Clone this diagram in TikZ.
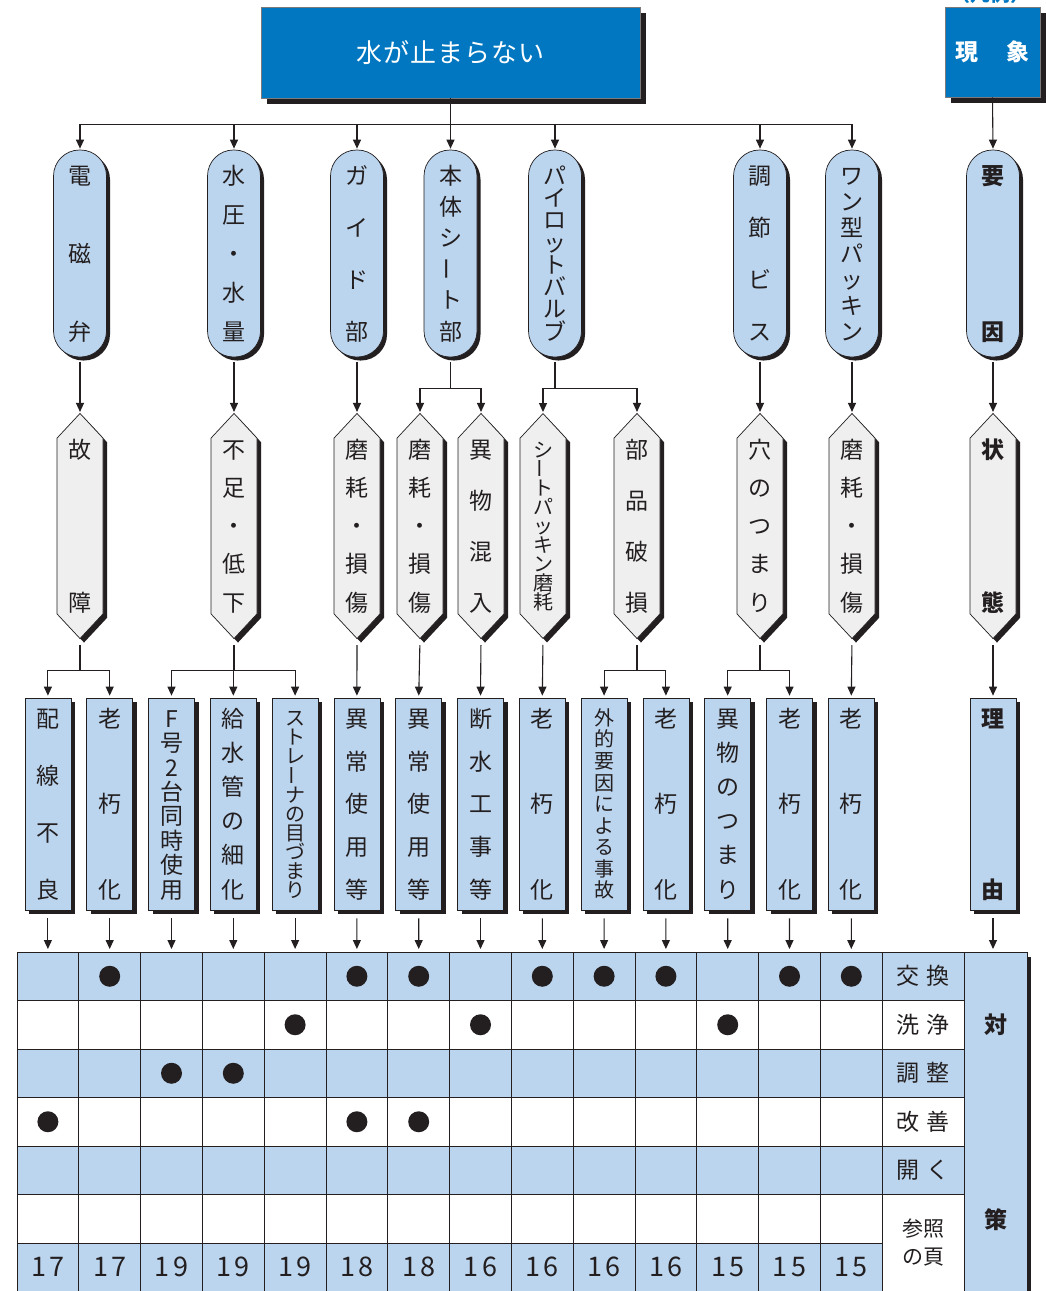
\documentclass[tikz,border=0pt]{standalone}
\usepackage{fontspec}
\setmainfont{Noto Sans CJK JP}
\usepackage{graphicx}
\usetikzlibrary{positioning, calc, shapes.symbols, shadows, arrows.meta}
\definecolor{WtrBlue}{HTML}{0077C0}
\definecolor{WtrPale}{HTML}{BCD5EE}
\definecolor{WtrGray}{HTML}{EFEFEF}
\definecolor{WtrInk}{HTML}{231F20}

%% vertical text: characters spread from top to bottom of a box
\newcommand\vtext[2]{\vbox to #1{\offinterlineskip\vtfirst#2\relax}}
\def\vtfirst#1{\vtbox{#1}\vtrest}
\def\vtrest#1{\ifx#1\relax\else\vss\vtbox{#1}\expandafter\vtrest\fi}
\def\vtbox#1{\hbox to 1em{\hss\vrule height .88em depth .12em width 0pt\relax #1\hss}}
\newcommand\vbar{\smash{\raisebox{.16em}{\rotatebox[origin=c]{90}{ー}}}}

\tikzset{
  ink/.style={draw=WtrInk, line width=0.7pt, text=WtrInk, inner sep=0pt},
  jpfont/.style={font=\fontsize{23}{23}\selectfont},
  keyfont/.style={font=\fontsize{23}{23}\selectfont\bfseries},
  smallfont/.style={font=\fontsize{20}{20}\selectfont},
  shade/.style={drop shadow={shadow xshift=#1, shadow yshift=-#1, fill=WtrInk, opacity=1}},
  headbox/.style={draw=WtrInk!60, line width=0.6pt, fill=WtrBlue, text=white, shade=6pt},
  cause/.style={ink, jpfont, fill=WtrPale, rounded corners=26pt, minimum width=53pt, minimum height=207pt, shade=3.5pt},
  state/.style={ink, jpfont, fill=WtrGray, shape=signal, signal to=north and south, signal pointer angle=86, minimum width=46pt, minimum height=197pt, shade=4pt},
  reason/.style={ink, jpfont, fill=WtrPale, minimum width=46pt, minimum height=212pt, shade=4pt},
  arr/.style={WtrInk, line width=1.1pt, -{Triangle[length=9pt, width=8pt]}},
  lin/.style={WtrInk, line width=1.1pt},
  grid/.style={WtrInk, line width=0.8pt},
  lab/.style={text=WtrInk, jpfont, inner sep=0pt},
  pg/.style={text=WtrInk, font=\fontsize{27}{27}\selectfont\addfontfeatures{LetterSpace=12}, inner sep=0pt}
}

\begin{document}
\begin{tikzpicture}[x=1pt, y=-1pt]
  \useasboundingbox (0,0) rectangle (1045,1291);
  %% heading boxes
  \node[headbox, minimum width=379pt, minimum height=91pt, font=\fontsize{26}{26}\selectfont\addfontfeatures{LetterSpace=4}] (top) at (450.5,52.5) {水が止まらない};
  \node[headbox, minimum width=95pt, minimum height=90pt, font=\fontsize{23}{23}\selectfont\bfseries] (lg) at (992.5,52) {現\hspace{1.2em}象};
  \node[text=WtrBlue, anchor=south, inner sep=0pt, font=\fontsize{20}{20}\selectfont\bfseries] (lgnote) at (990,4) {（凡例）};

  %% row 1: causes
  \node[cause] (c1) at (80,253.5) {\vtext{176pt}{電磁弁}};
  \node[cause] (c2) at (234,253.5) {\vtext{176pt}{水圧・水量}};
  \node[cause] (c3) at (357,253.5) {\vtext{176pt}{ガイド部}};
  \node[cause] (c4) at (450.5,253.5) {\vtext{176pt}{本体シ\vbar ト部}};
  \node[cause] (c5) at (555,253.5) {\vtext{176pt}{パイロットバルブ}};
  \node[cause] (c6) at (760,253.5) {\vtext{176pt}{調節ビス}};
  \node[cause] (c7) at (852,253.5) {\vtext{176pt}{ワン型パッキン}};
  \node[cause, keyfont] (cL) at (993,253.5) {\vtext{176pt}{要因}};

  %% row 2: states
  \node[state] (s1) at (80,526) {\vtext{173pt}{故障}};
  \node[state] (s2) at (234,526) {\vtext{173pt}{不足・低下}};
  \node[state] (s3) at (357,526) {\vtext{173pt}{磨耗・損傷}};
  \node[state] (s4) at (420,526) {\vtext{173pt}{磨耗・損傷}};
  \node[state] (s5) at (481,526) {\vtext{173pt}{異物混入}};
  \node[state, smallfont] (s6) at (543,526) {\vtext{170pt}{シ\vbar トパッキン磨耗}};
  \node[state] (s7) at (637,526) {\vtext{173pt}{部品破損}};
  \node[state] (s8) at (760,526) {\vtext{173pt}{穴のつまり}};
  \node[state] (s9) at (852,526) {\vtext{173pt}{磨耗・損傷}};
  \node[state, keyfont] (sL) at (993,526) {\vtext{173pt}{状態}};

  %% row 3: reasons
  \node[reason] (r1) at (47.9,804) {\vtext{191pt}{配線不良}};
  \node[reason] (r2) at (109.7,804) {\vtext{191pt}{老朽化}};
  \node[reason] (r3) at (171.5,804) {\vtext{191pt}{F号2台同時使用}};
  \node[reason] (r4) at (233.3,804) {\vtext{191pt}{給水管の細化}};
  \node[reason, smallfont] (r5) at (295.1,804) {\vtext{190pt}{ストレ\vbar ナの目づまり}};
  \node[reason] (r6) at (356.9,804) {\vtext{191pt}{異常使用等}};
  \node[reason] (r7) at (418.7,804) {\vtext{191pt}{異常使用等}};
  \node[reason] (r8) at (480.5,804) {\vtext{191pt}{断水工事等}};
  \node[reason] (r9) at (542.3,804) {\vtext{191pt}{老朽化}};
  \node[reason, smallfont] (r10) at (604.1,804) {\vtext{190pt}{外的要因による事故}};
  \node[reason] (r11) at (665.9,804) {\vtext{191pt}{老朽化}};
  \node[reason] (r12) at (727.7,804) {\vtext{191pt}{異物のつまり}};
  \node[reason] (r13) at (789.5,804) {\vtext{191pt}{老朽化}};
  \node[reason] (r14) at (851.3,804) {\vtext{191pt}{老朽化}};
  \node[reason, keyfont] (rL) at (993,804) {\vtext{191pt}{理由}};

  %% connectors
  \foreach \c in {c1,c2,c3,c4,c5,c6,c7}
    \draw[arr, shorten >=1pt] (top.south) -- ++(0,26) -| (\c.north);
  \draw[arr, shorten >=1pt] (lg.south) -- (cL.north);
  \foreach \a/\b in {c1/s1, c2/s2, c3/s3, c6/s8, c7/s9, cL/sL}
    \draw[arr, shorten <=5pt, shorten >=1pt] (\a.south) -- (\b.north);
  \draw[lin, shorten <=5pt] (c4.south) -- ++(0,31) coordinate (j4);
  \draw[arr, shorten >=1pt] (j4) -| (s4.north);
  \draw[arr, shorten >=1pt] (j4) -| (s5.north);
  \draw[lin, shorten <=5pt] (c5.south) -- ++(0,31) coordinate (j5);
  \draw[arr, shorten >=1pt] (j5) -| (s6.north);
  \draw[arr, shorten >=1pt] (j5) -| (s7.north);

  \foreach \a/\b in {s3/r6, s4/r7, s5/r8, s6/r9, s9/r14, sL/rL}
    \draw[arr, shorten <=6pt, shorten >=2pt] (\a.south) -- (\b.north);
  \draw[lin, shorten <=6pt] (s1.south) -- ++(0,31) coordinate (k1);
  \foreach \b in {r1,r2} \draw[arr, shorten >=2pt] (k1) -| (\b.north);
  \draw[lin, shorten <=6pt] (s2.south) -- ++(0,31) coordinate (k2);
  \foreach \b in {r3,r4,r5} \draw[arr, shorten >=2pt] (k2) -| (\b.north);
  \draw[lin, shorten <=6pt] (s7.south) -- ++(0,31) coordinate (k7);
  \foreach \b in {r10,r11} \draw[arr, shorten >=2pt] (k7) -| (\b.north);
  \draw[lin, shorten <=6pt] (s8.south) -- ++(0,31) coordinate (k8);
  \foreach \b in {r12,r13} \draw[arr, shorten >=2pt] (k8) -| (\b.north);

  %% table
  \fill[WtrPale] (17,952) rectangle (964,1000.5);
  \fill[WtrPale] (17,1049) rectangle (964,1097.5);
  \fill[WtrPale] (17,1146) rectangle (964,1194.5);
  \fill[WtrPale] (17,1243) rectangle (882.2,1300);
  \fill[WtrPale] (964,952) rectangle (1027,1300);
  \fill[WtrInk] (1027,957) rectangle (1031,1300);
  \foreach \k in {0,...,14}
    \draw[grid] ({17+61.8*\k},952) -- ++(0,348);
  \foreach \y in {1000.5,1049,1097.5,1146,1194.5}
    \draw[grid] (17,\y) -- (964,\y);
  \draw[grid] (17,1243) -- (882.2,1243);
  \draw[grid] (17,952) -- (1027,952) (964,952) -- (964,1300) (1027,952) -- (1027,1300);

  \foreach \i in {1,...,14} {
    \coordinate (t\i) at ({47.9+61.8*(\i-1)},952);
    \draw[arr, shorten <=8pt, shorten >=3pt] (r\i.south) -- (t\i);
  }
  \coordinate (tL) at (993,952);
  \draw[arr, shorten <=8pt, shorten >=3pt] (rL.south) -- (tL);

  %% marks
  \foreach \c/\r in {2/0,6/0,7/0,9/0,10/0,11/0,13/0,14/0,5/1,8/1,12/1,3/2,4/2,1/3,6/3,7/3}
    \fill[WtrInk] ({47.9+61.8*(\c-1)},{976.25+48.5*\r}) circle (10.5);

  %% row labels
  \node[lab] (m1) at (923,976.25) {交\hspace{.3em}換};
  \node[lab] (m2) at (923,1024.75) {洗\hspace{.3em}浄};
  \node[lab] (m3) at (923,1073.25) {調\hspace{.3em}整};
  \node[lab] (m4) at (923,1121.75) {改\hspace{.3em}善};
  \node[lab] (m5) at (923,1170.25) {開\hspace{.3em}く};
  \node[lab, font=\fontsize{21}{28}\selectfont, align=center] (m6) at (923,1243) {参照\\の頁};
  \node[lab, keyfont] (kt1) at (995.5,1025) {対};
  \node[lab, keyfont] (kt2) at (995.5,1220) {策};

  %% page numbers
  \foreach \p [count=\i] in {17,17,19,19,19,18,18,16,16,16,16,15,15,15}
    \node[pg] (p\i) at ({47.9+61.8*(\i-1)},1267.25) {\p};
\end{tikzpicture}
\end{document}
